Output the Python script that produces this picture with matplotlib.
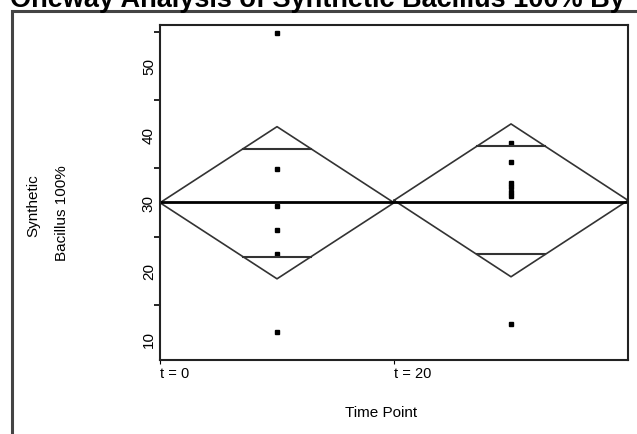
## oneway means-diamond plot with matplotlib

import matplotlib
matplotlib.use('Agg')
import matplotlib.pyplot as plt
from matplotlib.patches import Rectangle
from matplotlib.ticker import MultipleLocator

plt.rcParams['font.family'] = ['Liberation Sans', 'DejaVu Sans']

# groups and their readings
groups = ['t = 0', 't = 20']
t0_values = [54.8, 34.9, 29.5, 26.0, 22.5, 11.0]
t20_values = [38.7, 35.9, 32.9, 32.3, 31.5, 31.0, 12.2]

# group means and 95% confidence half-widths (diamonds)
group_means = [29.95, 30.3]
ci_half = [11.15, 11.2]
grand_mean = 30.1

fig = plt.figure(figsize=(6.37, 4.35), dpi=100)
ax = fig.add_axes([0.2512, 0.1701, 0.7347, 0.7701])

# outer report frame, running past the right and bottom edges
fig.patches.append(Rectangle((11.5 / 637, -0.1), 1.1, 1 - 11.5 / 435 + 0.1,
                             transform=fig.transFigure, fill=False,
                             edgecolor='#444444', linewidth=2.2))
fig.text(10 / 637, 1 - 7 / 435, 'Oneway Analysis of Synthetic Bacillus 100% By Time Point',
         fontsize=19.5, fontweight='bold', va='baseline', ha='left')

# points at the centre of each group's band
for i, vals in enumerate([t0_values, t20_values]):
    ax.plot([i + 0.5] * len(vals), vals, 's', color='black', markersize=2.5)

# means diamonds with overlap marks
k = 2 ** -0.5
for i, (m, h) in enumerate(zip(group_means, ci_half)):
    ax.plot([i, i + 0.5, i + 1, i + 0.5, i], [m, m + h, m, m - h, m],
            color='#333333', linewidth=1.2)
    for s in (1, -1):
        ax.plot([i + 0.5 - 0.5 * (1 - k), i + 0.5 + 0.5 * (1 - k)],
                [m + s * k * h] * 2, color='#333333', linewidth=1.5)

ax.axhline(grand_mean, color='black', linewidth=2)

ax.set_xlim(0, 2)
ax.set_ylim(6.9, 56.0)
ax.yaxis.set_major_locator(MultipleLocator(10))
ax.yaxis.set_minor_locator(MultipleLocator(5))
ax.tick_params(axis='y', which='major', length=0, pad=3, labelsize=11, labelrotation=90)
ax.tick_params(axis='y', which='minor', length=4, width=1.2)
for lab in ax.get_yticklabels():
    lab.set_va('center')

ax.set_xticks([0, 1])
ax.set_xticklabels(groups, ha='left', fontsize=10.5)
ax.tick_params(axis='x', length=3, pad=1)

for sp in ax.spines.values():
    sp.set_linewidth(1.5)
    sp.set_color('#222222')

ax.set_xlabel('Time Point', fontsize=11)
ax.xaxis.set_label_coords(0.472, -0.135)
fig.text(33 / 637, 1 - 206 / 435, 'Synthetic', rotation=90, fontsize=11, ha='center', va='center')
fig.text(62 / 637, 1 - 213 / 435, 'Bacillus 100%', rotation=90, fontsize=11, ha='center', va='center')

plt.savefig('out.png', dpi=100)
